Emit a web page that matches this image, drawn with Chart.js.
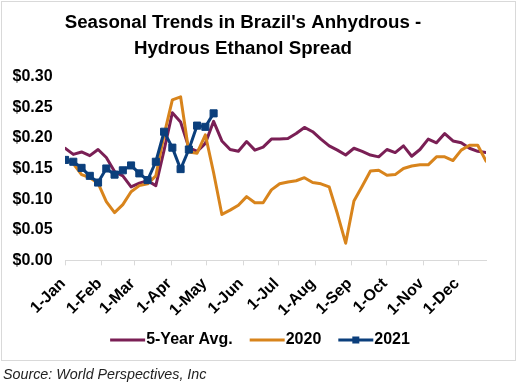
<!DOCTYPE html>
<html>
<head>
<meta charset="utf-8">
<title>Brazil Anhydrous - Hydrous Ethanol Spread</title>
<script src="https://cdn.jsdelivr.net/npm/chart.js@4.4.1/dist/chart.umd.min.js"></script>
<style>
  body { margin: 0; background: #fff; font-family: "Liberation Sans", Arial, sans-serif; }
  #wrap { position: relative; width: 517px; height: 362px; }
  #frame { position: absolute; left: 1px; top: 1px; width: 513px; height: 358px; border: 1px solid #d9d9d9; pointer-events: none; }
  #source { position: absolute; left: 3px; top: 366px; font-size: 14.3px; line-height: 16px; font-style: italic; color: #222; }
</style>
</head>
<body>
<div id="wrap">
  <canvas id="spread-chart"></canvas>
  <div id="frame"></div>
</div>
<div id="source">Source: World Perspectives, Inc</div>

<script>
// tanggal minggu (hari ke-n sejak 1-Jan)
const weekDays = [0, 7, 14, 21, 28, 35, 42, 49, 56, 63, 70, 77, 84, 91, 98, 105, 112, 119, 126, 133,
  140, 147, 154, 161, 168, 175, 182, 189, 196, 203, 210, 217, 224, 231, 238, 245, 252, 259, 266, 273,
  280, 287, 294, 301, 308, 315, 322, 329, 336, 343, 350, 357];

// tick bulan
const monthDays   = [0, 31, 59, 90, 120, 151, 181, 212, 243, 273, 304, 334];
const monthLabels = ['1-Jan', '1-Feb', '1-Mar', '1-Apr', '1-May', '1-Jun', '1-Jul', '1-Aug', '1-Sep', '1-Oct', '1-Nov', '1-Dec'];

// nilai spread ($/liter)
const avg5yr = [0.183, 0.173, 0.177, 0.171, 0.181, 0.168, 0.145, 0.138, 0.120, 0.126,
  0.130, 0.122, 0.180, 0.241, 0.226, 0.184, 0.178, 0.191, 0.227, 0.195,
  0.181, 0.178, 0.194, 0.180, 0.185, 0.198, 0.198, 0.199, 0.207, 0.217,
  0.210, 0.198, 0.187, 0.180, 0.172, 0.183, 0.178, 0.172, 0.169, 0.181,
  0.176, 0.187, 0.170, 0.181, 0.198, 0.192, 0.207, 0.195, 0.192, 0.183,
  0.178, 0.176];

const y2020 = [0.164, 0.158, 0.140, 0.135, 0.126, 0.096, 0.078, 0.091, 0.112, 0.122,
  0.125, 0.138, 0.205, 0.262, 0.267, 0.177, 0.175, 0.205, 0.143, 0.075,
  0.082, 0.090, 0.104, 0.094, 0.094, 0.115, 0.125, 0.128, 0.130, 0.135,
  0.127, 0.125, 0.120, 0.076, 0.028, 0.097, 0.121, 0.146, 0.147, 0.139,
  0.140, 0.150, 0.154, 0.156, 0.156, 0.169, 0.169, 0.163, 0.180, 0.188,
  0.188, 0.162];

const y2021 = [0.164, 0.161, 0.151, 0.138, 0.127, 0.150, 0.140, 0.147, 0.155, 0.142,
  0.131, 0.161, 0.210, 0.184, 0.149, 0.181, 0.220, 0.218, 0.240];

const PURPLE = '#7a1f55';
const ORANGE = '#d8841c';
const BLUE   = '#0b3f7c';

function toPoints(values) {
  return values.map((v, i) => ({ x: weekDays[i], y: v }));
}

// ikon legend: garis (plus kotak kecil untuk 2021)
function legendIcon(color, marker) {
  const c = document.createElement('canvas');
  c.width = 85;
  c.height = 12;
  const g = c.getContext('2d');
  g.strokeStyle = color;
  g.lineWidth = 3;
  g.beginPath();
  g.moveTo(32, 6);
  g.lineTo(67, 6);
  g.stroke();
  if (marker) {
    g.fillStyle = color;
    g.fillRect(46, 2.5, 7, 7);
  }
  return c;
}

const legendItems = [
  { text: '5-Year Avg.', icon: legendIcon(PURPLE, false), idx: 2 },
  { text: '2020',        icon: legendIcon(ORANGE, false), idx: 1 },
  { text: '2021',        icon: legendIcon(BLUE, true),    idx: 0 }
];

// legend dipusatkan ke seluruh lebar canvas, bukan hanya area chart
const legendCenter = {
  id: 'legendCenter',
  afterLayout(chart) {
    chart.legend.left = -2;
    chart.legend.right = 515;
  }
};

Chart.defaults.font.family = '"Liberation Sans", Arial, sans-serif';
Chart.defaults.color = '#000';

new Chart(document.getElementById('spread-chart'), {
  type: 'line',
  data: {
    datasets: [
      {
        label: '2021',
        data: toPoints(y2021),
        borderColor: BLUE,
        backgroundColor: BLUE,
        borderWidth: 3,
        pointStyle: 'rect',
        pointRadius: 5,
        pointBorderWidth: 1,
        pointBackgroundColor: BLUE,
        pointBorderColor: BLUE
      },
      {
        label: '2020',
        data: toPoints(y2020),
        borderColor: ORANGE,
        backgroundColor: ORANGE,
        borderWidth: 3,
        pointRadius: 0
      },
      {
        label: '5-Year Avg.',
        data: toPoints(avg5yr),
        borderColor: PURPLE,
        backgroundColor: PURPLE,
        borderWidth: 3,
        pointRadius: 0
      }
    ]
  },
  options: {
    responsive: true,
    maintainAspectRatio: false,
    animation: false,
    layout: { padding: { left: 0, right: 31, top: 0, bottom: 4 } },
    elements: { line: { tension: 0, borderJoinStyle: 'round', borderCapStyle: 'round' } },
    scales: {
      x: {
        type: 'linear',
        min: 0,
        max: 357,
        afterBuildTicks: s => { s.ticks = monthDays.map(v => ({ value: v })); },
        afterFit: s => { s.height -= 7; },
        grid: { drawOnChartArea: false, drawTicks: true, tickLength: 5, color: '#d9d9d9' },
        border: { display: true, color: '#d9d9d9', width: 1 },
        ticks: {
          autoSkip: false,
          minRotation: 45,
          maxRotation: 45,
          padding: 9,
          labelOffset: -2,
          font: { size: 16, weight: 'bold' },
          callback: v => monthLabels[monthDays.indexOf(v)]
        }
      },
      y: {
        min: 0,
        max: 0.3,
        grid: { display: false, drawTicks: false },
        border: { display: false },
        ticks: {
          stepSize: 0.05,
          padding: 12.5,
          font: { size: 16, weight: 'bold' },
          callback: v => '$' + v.toFixed(2)
        }
      }
    },
    plugins: {
      title: {
        display: true,
        text: ["Seasonal Trends in Brazil's Anhydrous -", 'Hydrous Ethanol Spread'],
        color: '#000',
        font: { size: 18.7, weight: 'bold', lineHeight: 1.38 },
        padding: { top: 10, bottom: 15 }
      },
      legend: {
        position: 'bottom',
        labels: {
          usePointStyle: true,
          pointStyleWidth: 35,
          padding: 10,
          color: '#000',
          font: { size: 16, weight: 'bold' },
          generateLabels: () => legendItems.map(it => ({
            text: it.text,
            pointStyle: it.icon,
            fillStyle: 'transparent',
            strokeStyle: 'transparent',
            lineWidth: 0,
            hidden: false,
            datasetIndex: it.idx
          }))
        }
      },
      tooltip: { enabled: false }
    }
  },
  plugins: [legendCenter]
});
</script>
</body>
</html>
